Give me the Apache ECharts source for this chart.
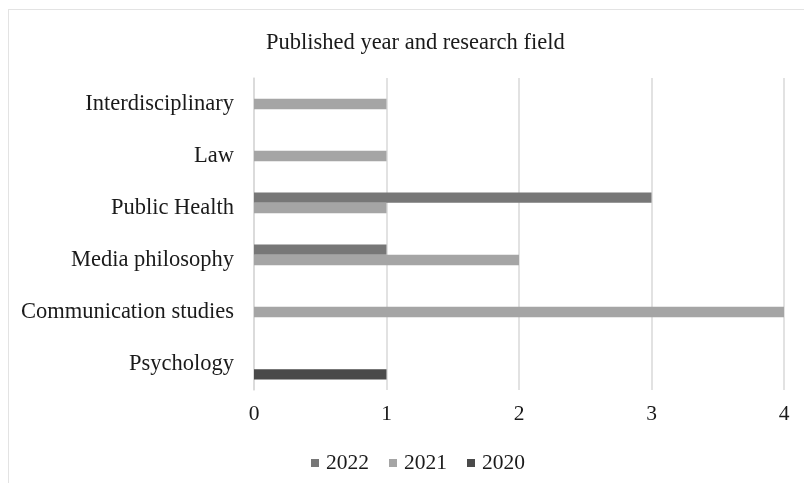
<!DOCTYPE html>
<html>
<head>
<meta charset="utf-8">
<script src="https://cdn.jsdelivr.net/npm/echarts@6/dist/echarts.min.js"></script>
<style>
  html, body { margin: 0; padding: 0; background: #fff; }
  #chart { width: 804px; height: 483px; }
</style>
</head>
<body>
<div id="chart"></div>
<script>
// Research fields, listed bottom to top on the category axis
const fields = ['Psychology', 'Communication studies', 'Media philosophy', 'Public Health', 'Law', 'Interdisciplinary'];
// Number of publications per field for each year
const years = ['2022', '2021', '2020'];
const pubs2022 = [null, null, 1, 3, null, null];
const pubs2021 = [null, 4, 2, 1, 1, 1];
const pubs2020 = [1, null, null, null, null, null];
const valueTicks = { min: 0, max: 4, interval: 1 };

const colors = { '2022': '#777777', '2021': '#a5a5a5', '2020': '#4a4a4a' };
const seriesData = { '2022': pubs2022, '2021': pubs2021, '2020': pubs2020 };

const font = '"Liberation Serif", "Times New Roman", serif';
const chart = echarts.init(document.getElementById('chart'), null, { renderer: 'canvas' });

chart.setOption({
  backgroundColor: '#ffffff',
  animation: false,
  textStyle: { fontFamily: font },
  title: {
    text: 'Published year and research field',
    left: 261,
    top: 27,
    textStyle: { fontFamily: font, fontSize: 22.5, fontWeight: 'normal', color: '#1a1a1a' }
  },
  graphic: [
    { type: 'line', shape: { x1: 8, y1: 9.5, x2: 804, y2: 9.5 }, style: { stroke: '#e3e3e3', lineWidth: 1 } },
    { type: 'line', shape: { x1: 8.5, y1: 9, x2: 8.5, y2: 483 }, style: { stroke: '#e3e3e3', lineWidth: 1 } }
  ],
  legend: {
    data: years,
    bottom: 4,
    left: 306,
    itemWidth: 8,
    itemHeight: 8,
    itemGap: 20,
    icon: 'rect',
    textStyle: { fontFamily: font, fontSize: 21.5, color: '#1a1a1a', padding: [0, 0, 0, 2] }
  },
  grid: { left: 254, right: 20, top: 78, bottom: 93, containLabel: false },
  xAxis: {
    type: 'value',
    min: valueTicks.min,
    max: valueTicks.max,
    interval: valueTicks.interval,
    axisLine: { show: false },
    axisTick: { show: false },
    axisLabel: { fontFamily: font, fontSize: 21.5, color: '#1a1a1a', margin: 13 },
    splitLine: { show: true, lineStyle: { color: '#d9d9d9', width: 1.5 } }
  },
  yAxis: {
    type: 'category',
    data: fields,
    axisLine: { show: true, lineStyle: { color: '#d9d9d9', width: 1.5 } },
    axisTick: { show: false },
    axisLabel: { fontFamily: font, fontSize: 22.5, color: '#1a1a1a', margin: 20 }
  },
  series: years.map(y => ({
    name: y,
    type: 'bar',
    data: seriesData[y],
    barWidth: 10.4,
    barGap: '0%',
    itemStyle: { color: colors[y] }
  }))
});
</script>
</body>
</html>
